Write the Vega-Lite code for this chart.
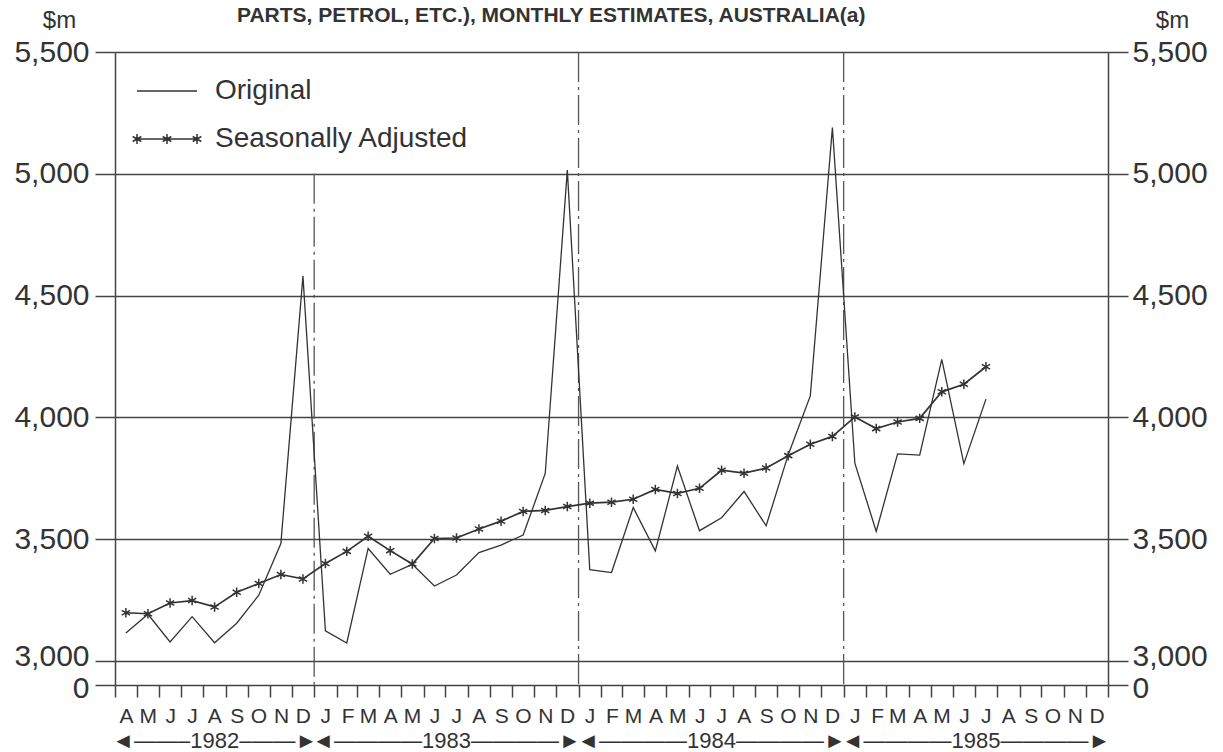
{
  "$schema": "https://vega.github.io/schema/vega-lite/v6.json",
  "width": 993,
  "height": 633,
  "autosize": "none",
  "padding": {"left": 115, "top": 52, "right": 115, "bottom": 67},
  "background": "white",
  "config": {
    "font": "Liberation Sans",
    "view": {"stroke": null}
  },
  "title": {
    "text": "PARTS, PETROL, ETC.), MONTHLY ESTIMATES, AUSTRALIA(a)",
    "anchor": "start",
    "frame": "group",
    "dx": 122,
    "offset": -18,
    "fontSize": 21,
    "fontWeight": "bold",
    "color": "#333"
  },
  "datasets": {
    "sales": [
      {"month": "1982-04", "Original": 3115, "SA": 3198},
      {"month": "1982-05", "Original": 3192, "SA": 3194},
      {"month": "1982-06", "Original": 3078, "SA": 3238},
      {"month": "1982-07", "Original": 3182, "SA": 3248},
      {"month": "1982-08", "Original": 3075, "SA": 3222},
      {"month": "1982-09", "Original": 3155, "SA": 3282},
      {"month": "1982-10", "Original": 3270, "SA": 3318},
      {"month": "1982-11", "Original": 3482, "SA": 3355},
      {"month": "1982-12", "Original": 4580, "SA": 3337},
      {"month": "1983-01", "Original": 3124, "SA": 3400},
      {"month": "1983-02", "Original": 3074, "SA": 3450},
      {"month": "1983-03", "Original": 3462, "SA": 3512},
      {"month": "1983-04", "Original": 3356, "SA": 3453},
      {"month": "1983-05", "Original": 3397, "SA": 3398},
      {"month": "1983-06", "Original": 3308, "SA": 3503},
      {"month": "1983-07", "Original": 3353, "SA": 3505},
      {"month": "1983-08", "Original": 3445, "SA": 3542},
      {"month": "1983-09", "Original": 3476, "SA": 3574},
      {"month": "1983-10", "Original": 3517, "SA": 3614},
      {"month": "1983-11", "Original": 3770, "SA": 3618},
      {"month": "1983-12", "Original": 5015, "SA": 3634},
      {"month": "1984-01", "Original": 3375, "SA": 3648},
      {"month": "1984-02", "Original": 3363, "SA": 3652},
      {"month": "1984-03", "Original": 3630, "SA": 3664},
      {"month": "1984-04", "Original": 3452, "SA": 3704},
      {"month": "1984-05", "Original": 3800, "SA": 3688},
      {"month": "1984-06", "Original": 3535, "SA": 3709},
      {"month": "1984-07", "Original": 3588, "SA": 3783},
      {"month": "1984-08", "Original": 3696, "SA": 3771},
      {"month": "1984-09", "Original": 3555, "SA": 3792},
      {"month": "1984-10", "Original": 3847, "SA": 3843},
      {"month": "1984-11", "Original": 4088, "SA": 3890},
      {"month": "1984-12", "Original": 5190, "SA": 3922},
      {"month": "1985-01", "Original": 3812, "SA": 4002},
      {"month": "1985-02", "Original": 3532, "SA": 3954},
      {"month": "1985-03", "Original": 3850, "SA": 3981},
      {"month": "1985-04", "Original": 3845, "SA": 3996},
      {"month": "1985-05", "Original": 4238, "SA": 4105},
      {"month": "1985-06", "Original": 3810, "SA": 4136},
      {"month": "1985-07", "Original": 4075, "SA": 4208}
    ],
    "yearEnds": [
      {"end": "1983-01", "top": 5000},
      {"end": "1984-01", "top": 5500},
      {"end": "1985-01", "top": 5500}
    ]
  },
  "layer": [
    {
      "data": {"name": "yearEnds"},
      "mark": {"type": "rule", "color": "#555", "strokeWidth": 1.3, "strokeDash": [30, 5, 3, 5]},
      "encoding": {
        "x": {"field": "end", "timeUnit": "utcyearmonth", "type": "temporal",
              "scale": {"type": "utc", "domain": [{"year": 1982, "month": 4, "date": 1, "utc": true}, {"year": 1986, "month": 1, "date": 1, "utc": true}]},
              "axis": null},
        "y": {"field": "top", "type": "quantitative",
              "scale": {"domain": [0, 3000, 5500], "range": [633, 609, 0], "nice": false, "zero": false},
              "axis": null},
        "y2": {"datum": 0}
      }
    },
    {
      "data": {"name": "sales"},
      "mark": {"type": "line", "color": "#333", "strokeWidth": 1.3},
      "encoding": {
        "x": {"field": "month", "timeUnit": "utcyearmonth", "type": "temporal", "bandPosition": 0.5,
              "scale": {"type": "utc", "domain": [{"year": 1982, "month": 4, "date": 1, "utc": true}, {"year": 1986, "month": 1, "date": 1, "utc": true}]},
              "axis": {
                "orient": "bottom",
                "tickCount": {"interval": "month", "step": 1},
                "labelExpr": "utcyear(datum.value) > 1985 ? '' : substring(utcFormat(datum.value, '%b'), 0, 1)",
                "labelOffset": 11,
                "labelFontSize": 21,
                "labelColor": "#333",
                "labelPadding": 8,
                "tickSize": 12,
                "tickColor": "#444",
                "tickWidth": 1.5,
                "domain": false,
                "grid": false,
                "labelOverlap": false,
                "labelFlush": false,
                "labelBound": false,
                "title": null
              }},
        "y": {"field": "Original", "type": "quantitative",
              "scale": {"domain": [0, 3000, 5500], "range": [633, 609, 0], "nice": false, "zero": false},
              "axis": {
                "orient": "left",
                "values": [0, 3000, 3500, 4000, 4500, 5000, 5500],
                "labelExpr": "format(datum.value, ',')",
                "grid": true,
                "gridColor": "#444",
                "gridWidth": 1.5,
                "gridOpacity": 1,
                "domain": true,
                "domainColor": "#444",
                "domainWidth": 1.5,
                "tickSize": 20,
                "tickColor": "#444",
                "tickWidth": 1.5,
                "labelFontSize": 30,
                "labelColor": "#333",
                "labelPadding": 6,
                "labelOverlap": false,
                "labelOffset": {"condition": [{"test": "datum.value == 3000", "value": -5}, {"test": "datum.value == 0", "value": 3}], "value": 0},
                "title": "$m",
                "titleAngle": 0,
                "titleX": -56,
                "titleY": -32,
                "titleAlign": "center",
                "titleBaseline": "middle",
                "titleFontSize": 24,
                "titleFontWeight": "normal",
                "titleColor": "#333"
              }}
      }
    },
    {
      "data": {"name": "sales"},
      "mark": {"type": "line", "color": "#333", "strokeWidth": 1.7},
      "encoding": {
        "x": {"field": "month", "timeUnit": "utcyearmonth", "type": "temporal", "bandPosition": 0.5,
              "scale": {"type": "utc", "domain": [{"year": 1982, "month": 4, "date": 1, "utc": true}, {"year": 1986, "month": 1, "date": 1, "utc": true}]},
              "axis": {
                "orient": "bottom",
                "values": [
                  {"year": 1982, "month": 8, "date": 16, "utc": true},
                  {"year": 1983, "month": 7, "date": 2, "utc": true},
                  {"year": 1984, "month": 7, "date": 2, "utc": true},
                  {"year": 1985, "month": 7, "date": 2, "utc": true}
                ],
                "labelExpr": "utcyear(datum.value) == 1982 ? '◄——–1982–——►' : '◄————' + utcyear(datum.value) + '————►'",
                "labelFontSize": 22,
                "labelColor": "#333",
                "labelPadding": 45,
                "labelLimit": 500,
                "ticks": false,
                "domain": false,
                "grid": false,
                "labelOverlap": false,
                "labelFlush": false,
                "labelBound": false,
                "title": null
              }},
        "y": {"field": "SA", "type": "quantitative",
              "scale": {"domain": [0, 3000, 5500], "range": [633, 609, 0], "nice": false, "zero": false},
              "axis": {
                "orient": "right",
                "values": [0, 3000, 3500, 4000, 4500, 5000, 5500],
                "labelExpr": "format(datum.value, ',')",
                "grid": false,
                "domain": true,
                "domainColor": "#444",
                "domainWidth": 1.5,
                "tickSize": 20,
                "tickColor": "#444",
                "tickWidth": 1.5,
                "labelFontSize": 30,
                "labelColor": "#333",
                "labelPadding": 4,
                "labelOverlap": false,
                "labelOffset": {"condition": [{"test": "datum.value == 3000", "value": -5}, {"test": "datum.value == 0", "value": 3}], "value": 0},
                "title": "$m",
                "titleAngle": 0,
                "titleX": 64,
                "titleY": -32,
                "titleAlign": "center",
                "titleBaseline": "middle",
                "titleFontSize": 24,
                "titleFontWeight": "normal",
                "titleColor": "#333"
              }}
      }
    },
    {
      "data": {"name": "sales"},
      "mark": {"type": "point", "shape": "M0,-1V1M-0.866,-0.5L0.866,0.5M-0.866,0.5L0.866,-0.5", "filled": false, "color": "#333", "strokeWidth": 1.5, "size": 90, "opacity": 1},
      "encoding": {
        "x": {"field": "month", "timeUnit": "utcyearmonth", "type": "temporal", "bandPosition": 0.5,
              "scale": {"type": "utc", "domain": [{"year": 1982, "month": 4, "date": 1, "utc": true}, {"year": 1986, "month": 1, "date": 1, "utc": true}]},
              "axis": null},
        "y": {"field": "SA", "type": "quantitative",
              "scale": {"domain": [0, 3000, 5500], "range": [633, 609, 0], "nice": false, "zero": false},
              "axis": null}
      }
    },
    {
      "data": {"values": []},
      "mark": {"type": "point", "filled": false, "color": "#333", "strokeWidth": 1.5, "size": 400, "opacity": 1},
      "encoding": {
        "shape": {
          "field": "series", "type": "nominal",
          "scale": {
            "domain": ["Original", "Seasonally Adjusted"],
            "range": [
              "M-3,0H3",
              "M-3,0H3M-3,-0.5V0.5M-3.43,-0.25L-2.57,0.25M-3.43,0.25L-2.57,-0.25M0,-0.5V0.5M-0.43,-0.25L0.43,0.25M-0.43,0.25L0.43,-0.25M3,-0.5V0.5M2.57,-0.25L3.43,0.25M2.57,0.25L3.43,-0.25"
            ]
          },
          "legend": {
            "title": null,
            "orient": "none",
            "legendX": 18,
            "legendY": 25,
            "padding": 0,
            "symbolSize": 400,
            "symbolStrokeColor": "#333",
            "symbolStrokeWidth": 1.5,
            "symbolFillColor": "transparent",
            "symbolOpacity": 1,
            "symbolOffset": 20,
            "labelOffset": 34,
            "labelFontSize": 28,
            "labelColor": "#333",
            "labelLimit": 500,
            "rowPadding": 20
          }
        }
      }
    }
  ],
  "resolve": {"axis": {"x": "independent", "y": "independent"}}
}
